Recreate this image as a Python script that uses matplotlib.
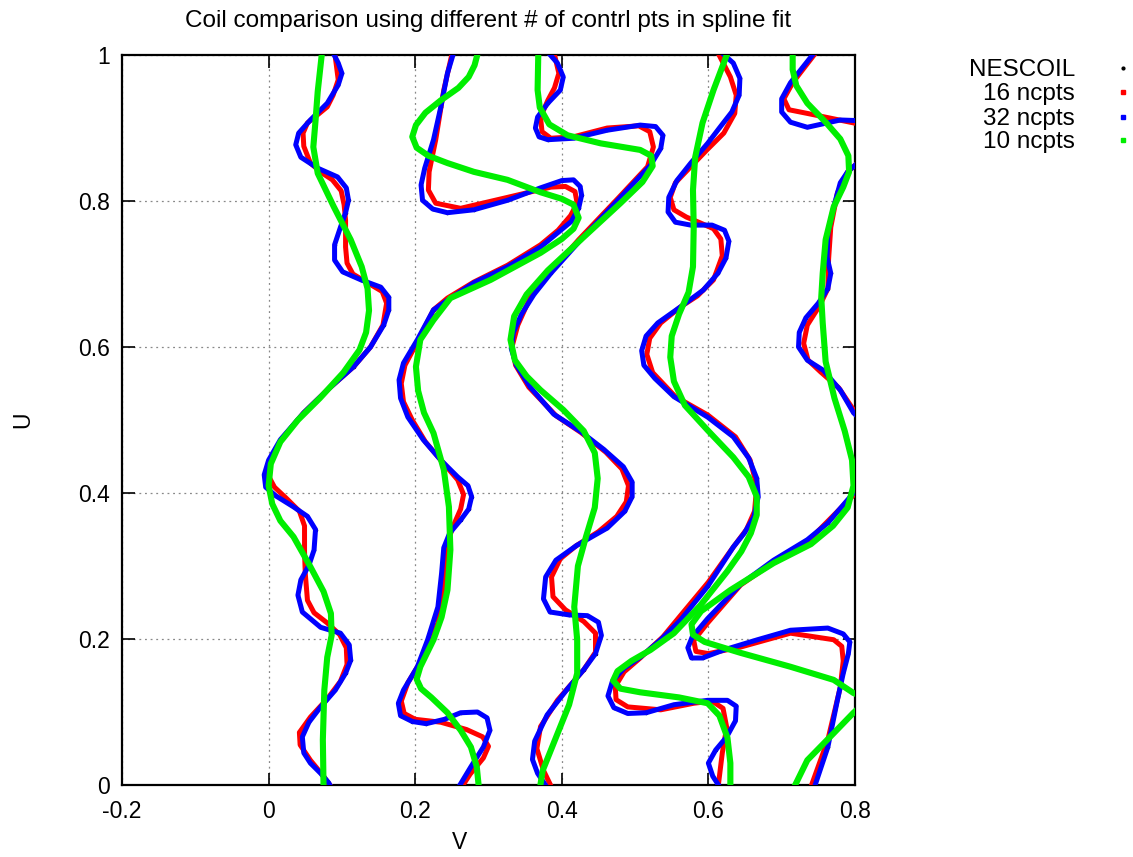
import numpy as np
import matplotlib.pyplot as plt
from matplotlib.lines import Line2D

plt.rcParams['font.family'] = ['Liberation Sans', 'DejaVu Sans']

# coil traces in (v, u), one list per coil and fit; coils that run past the
# right edge at v=0.8 are kept as separate pieces
a_32 = [(0.087, 1.005), (0.095, 0.989), (0.100, 0.975), (0.095, 0.959), (0.080, 0.934),
        (0.057, 0.911), (0.041, 0.893), (0.037, 0.877), (0.044, 0.860), (0.067, 0.845),
        (0.094, 0.833), (0.106, 0.818), (0.109, 0.801), (0.105, 0.784), (0.098, 0.764),
        (0.090, 0.740), (0.090, 0.719), (0.101, 0.703), (0.126, 0.692), (0.153, 0.682),
        (0.164, 0.668), (0.164, 0.651), (0.157, 0.630), (0.139, 0.600), (0.116, 0.573),
        (0.080, 0.541), (0.048, 0.510), (0.016, 0.473), (0.000, 0.445), (-0.006, 0.425),
        (-0.004, 0.408), (0.010, 0.396), (0.034, 0.381), (0.053, 0.368), (0.064, 0.350),
        (0.062, 0.322), (0.055, 0.301), (0.044, 0.281), (0.040, 0.260), (0.046, 0.237),
        (0.071, 0.216), (0.098, 0.208), (0.110, 0.192), (0.112, 0.171), (0.105, 0.153),
        (0.091, 0.130), (0.071, 0.107), (0.055, 0.086), (0.046, 0.066), (0.048, 0.044),
        (0.057, 0.030), (0.071, 0.016), (0.082, 0.003), (0.086, -0.005)]
a_16 = [(0.090, 1.005), (0.095, 0.966), (0.088, 0.945), (0.080, 0.929), (0.063, 0.915),
        (0.053, 0.907), (0.047, 0.893), (0.048, 0.875), (0.057, 0.852), (0.072, 0.839),
        (0.087, 0.829), (0.099, 0.814), (0.103, 0.795), (0.105, 0.774), (0.105, 0.737),
        (0.107, 0.715), (0.115, 0.700), (0.135, 0.688), (0.155, 0.676), (0.161, 0.660),
        (0.156, 0.630), (0.139, 0.600), (0.116, 0.573), (0.080, 0.541), (0.048, 0.510),
        (0.018, 0.474), (0.003, 0.445), (-0.001, 0.425), (0.008, 0.408), (0.025, 0.392),
        (0.042, 0.375), (0.049, 0.355), (0.049, 0.320), (0.050, 0.290), (0.053, 0.253),
        (0.062, 0.236), (0.080, 0.222), (0.097, 0.206), (0.106, 0.188), (0.107, 0.165),
        (0.098, 0.142), (0.080, 0.118), (0.057, 0.093), (0.042, 0.072), (0.043, 0.055),
        (0.057, 0.034), (0.075, 0.012), (0.087, -0.005)]
a_10 = [(0.073, 1.005), (0.067, 0.950), (0.064, 0.910), (0.061, 0.874), (0.067, 0.838),
        (0.089, 0.792), (0.112, 0.747), (0.127, 0.710), (0.135, 0.680), (0.137, 0.650),
        (0.133, 0.620), (0.124, 0.596), (0.102, 0.565), (0.070, 0.530), (0.040, 0.500),
        (0.016, 0.470), (0.003, 0.440), (0.000, 0.410), (0.005, 0.385), (0.016, 0.362),
        (0.034, 0.340), (0.057, 0.299), (0.075, 0.265), (0.085, 0.235), (0.086, 0.205),
        (0.080, 0.175), (0.076, 0.130), (0.074, 0.062), (0.075, -0.005)]

b_32 = [(0.253, 1.005), (0.244, 0.975), (0.235, 0.929), (0.225, 0.884), (0.213, 0.845),
        (0.208, 0.822), (0.210, 0.801), (0.224, 0.789), (0.244, 0.784), (0.280, 0.788),
        (0.326, 0.801), (0.371, 0.818), (0.400, 0.828), (0.416, 0.829), (0.425, 0.820),
        (0.427, 0.808), (0.423, 0.790), (0.413, 0.772), (0.395, 0.757), (0.371, 0.737),
        (0.326, 0.710), (0.280, 0.688), (0.244, 0.664), (0.225, 0.651), (0.203, 0.610),
        (0.184, 0.578), (0.178, 0.555), (0.180, 0.530), (0.190, 0.504), (0.211, 0.473),
        (0.235, 0.445), (0.258, 0.422), (0.272, 0.410), (0.277, 0.395), (0.273, 0.378),
        (0.262, 0.363), (0.247, 0.345), (0.239, 0.325), (0.236, 0.290), (0.231, 0.244),
        (0.217, 0.199), (0.203, 0.162), (0.184, 0.130), (0.177, 0.112), (0.180, 0.095),
        (0.196, 0.087), (0.215, 0.084), (0.240, 0.090), (0.262, 0.099), (0.285, 0.100),
        (0.298, 0.092), (0.302, 0.075), (0.293, 0.052), (0.276, 0.025), (0.258, -0.005)]
b_16 = [(0.251, 1.005), (0.239, 0.952), (0.228, 0.884), (0.219, 0.840), (0.218, 0.815),
        (0.228, 0.797), (0.262, 0.790), (0.326, 0.805), (0.385, 0.819), (0.405, 0.820),
        (0.418, 0.813), (0.421, 0.797), (0.412, 0.780), (0.395, 0.760), (0.371, 0.740),
        (0.326, 0.712), (0.280, 0.689), (0.244, 0.667), (0.225, 0.651), (0.203, 0.607),
        (0.186, 0.575), (0.181, 0.550), (0.184, 0.525), (0.196, 0.500), (0.214, 0.470),
        (0.241, 0.438), (0.258, 0.418), (0.266, 0.398), (0.262, 0.378), (0.252, 0.355),
        (0.245, 0.335), (0.241, 0.290), (0.231, 0.222), (0.211, 0.175), (0.190, 0.140),
        (0.181, 0.115), (0.185, 0.098), (0.200, 0.090), (0.235, 0.086), (0.270, 0.076),
        (0.292, 0.066), (0.300, 0.053), (0.293, 0.037), (0.275, 0.015), (0.262, -0.005)]
b_10 = [(0.286, 1.005), (0.281, 0.986), (0.273, 0.970), (0.259, 0.955), (0.235, 0.938),
        (0.214, 0.921), (0.201, 0.904), (0.196, 0.888), (0.202, 0.873), (0.218, 0.862),
        (0.244, 0.852), (0.280, 0.840), (0.326, 0.829), (0.371, 0.812), (0.400, 0.803),
        (0.416, 0.795), (0.423, 0.777), (0.416, 0.762), (0.400, 0.748), (0.371, 0.729),
        (0.303, 0.692), (0.248, 0.667), (0.225, 0.637), (0.207, 0.610), (0.201, 0.573),
        (0.204, 0.540), (0.212, 0.510), (0.225, 0.482), (0.239, 0.432), (0.246, 0.381),
        (0.248, 0.322), (0.244, 0.267), (0.236, 0.230), (0.225, 0.199), (0.207, 0.162),
        (0.202, 0.145), (0.208, 0.132), (0.222, 0.120), (0.244, 0.099), (0.262, 0.075),
        (0.276, 0.052), (0.284, 0.025), (0.287, -0.005)]

c_32 = [(0.380, 1.005), (0.394, 0.989), (0.402, 0.970), (0.398, 0.952), (0.381, 0.934),
        (0.367, 0.915), (0.364, 0.900), (0.369, 0.888), (0.381, 0.884), (0.416, 0.886),
        (0.462, 0.897), (0.507, 0.904), (0.528, 0.902), (0.538, 0.890), (0.535, 0.872),
        (0.521, 0.849), (0.480, 0.805), (0.426, 0.747), (0.385, 0.701), (0.362, 0.672),
        (0.345, 0.645), (0.334, 0.620), (0.331, 0.598), (0.338, 0.575), (0.357, 0.545),
        (0.389, 0.508), (0.426, 0.484), (0.457, 0.460), (0.484, 0.436), (0.496, 0.415),
        (0.496, 0.395), (0.486, 0.375), (0.462, 0.352), (0.420, 0.328), (0.392, 0.308),
        (0.378, 0.285), (0.375, 0.255), (0.384, 0.237), (0.410, 0.233), (0.435, 0.232),
        (0.450, 0.223), (0.454, 0.205), (0.446, 0.180), (0.430, 0.158), (0.408, 0.132),
        (0.380, 0.096), (0.363, 0.060), (0.360, 0.035), (0.367, 0.016), (0.381, -0.005)]
c_16 = [(0.389, 1.005), (0.396, 0.975), (0.390, 0.955), (0.381, 0.938), (0.371, 0.915),
        (0.373, 0.895), (0.385, 0.886), (0.416, 0.888), (0.462, 0.900), (0.505, 0.903),
        (0.520, 0.895), (0.525, 0.874), (0.517, 0.847), (0.477, 0.804), (0.423, 0.747),
        (0.383, 0.701), (0.357, 0.668), (0.340, 0.630), (0.332, 0.600), (0.337, 0.575),
        (0.355, 0.545), (0.392, 0.506), (0.426, 0.483), (0.460, 0.456), (0.482, 0.433),
        (0.491, 0.410), (0.488, 0.388), (0.475, 0.368), (0.450, 0.347), (0.420, 0.328),
        (0.398, 0.310), (0.386, 0.285), (0.388, 0.258), (0.405, 0.240), (0.430, 0.224),
        (0.446, 0.208), (0.446, 0.182), (0.430, 0.158), (0.394, 0.116), (0.371, 0.080),
        (0.366, 0.050), (0.375, 0.020), (0.387, -0.005)]
c_10 = [(0.368, 1.005), (0.367, 0.952), (0.370, 0.928), (0.383, 0.905), (0.408, 0.890),
        (0.453, 0.879), (0.507, 0.870), (0.522, 0.862), (0.524, 0.848), (0.510, 0.826),
        (0.480, 0.797), (0.426, 0.747), (0.381, 0.705), (0.352, 0.672), (0.335, 0.642),
        (0.330, 0.610), (0.336, 0.582), (0.352, 0.560), (0.371, 0.541), (0.402, 0.514),
        (0.430, 0.485), (0.445, 0.455), (0.449, 0.420), (0.445, 0.380), (0.433, 0.340),
        (0.422, 0.300), (0.417, 0.244), (0.421, 0.199), (0.421, 0.153), (0.410, 0.110),
        (0.390, 0.060), (0.374, 0.020), (0.370, -0.005)]

d_32 = [(0.616, 1.005), (0.634, 0.989), (0.643, 0.968), (0.642, 0.945), (0.632, 0.922),
        (0.615, 0.900), (0.599, 0.879), (0.576, 0.852), (0.557, 0.828), (0.546, 0.805),
        (0.545, 0.785), (0.555, 0.771), (0.576, 0.767), (0.605, 0.767), (0.622, 0.760),
        (0.628, 0.745), (0.624, 0.722), (0.613, 0.701), (0.593, 0.678), (0.562, 0.655),
        (0.531, 0.633), (0.515, 0.615), (0.509, 0.595), (0.512, 0.575), (0.527, 0.557),
        (0.553, 0.532), (0.599, 0.504), (0.634, 0.477), (0.655, 0.448), (0.666, 0.420),
        (0.668, 0.395), (0.662, 0.367), (0.649, 0.345), (0.634, 0.326), (0.599, 0.272),
        (0.562, 0.226), (0.535, 0.199), (0.507, 0.175), (0.485, 0.160), (0.469, 0.142),
        (0.463, 0.122), (0.471, 0.106), (0.490, 0.098), (0.515, 0.099), (0.553, 0.110),
        (0.599, 0.116), (0.626, 0.116), (0.638, 0.108), (0.637, 0.088), (0.625, 0.066),
        (0.610, 0.048), (0.600, 0.030), (0.606, 0.012), (0.617, -0.005)]
d_16 = [(0.612, 1.005), (0.630, 0.970), (0.638, 0.945), (0.636, 0.920), (0.621, 0.893),
        (0.598, 0.870), (0.576, 0.847), (0.555, 0.825), (0.548, 0.805), (0.553, 0.788),
        (0.570, 0.778), (0.589, 0.770), (0.607, 0.762), (0.617, 0.748), (0.619, 0.725),
        (0.607, 0.692), (0.585, 0.670), (0.562, 0.655), (0.535, 0.633), (0.520, 0.612),
        (0.516, 0.590), (0.524, 0.565), (0.555, 0.532), (0.599, 0.507), (0.637, 0.477),
        (0.657, 0.445), (0.666, 0.410), (0.663, 0.375), (0.652, 0.350), (0.634, 0.326),
        (0.600, 0.278), (0.566, 0.237), (0.538, 0.203), (0.507, 0.174), (0.485, 0.155),
        (0.473, 0.135), (0.474, 0.117), (0.490, 0.107), (0.535, 0.103), (0.580, 0.112),
        (0.605, 0.115), (0.620, 0.105), (0.625, 0.079), (0.619, 0.044), (0.613, -0.005)]
d_10 = [(0.627, 1.005), (0.607, 0.952), (0.592, 0.907), (0.582, 0.860), (0.579, 0.815),
        (0.580, 0.764), (0.579, 0.710), (0.573, 0.675), (0.560, 0.645), (0.550, 0.615),
        (0.548, 0.586), (0.553, 0.553), (0.568, 0.520), (0.599, 0.486), (0.634, 0.449),
        (0.655, 0.422), (0.666, 0.395), (0.666, 0.370), (0.658, 0.345), (0.645, 0.320),
        (0.626, 0.293), (0.589, 0.246), (0.553, 0.208), (0.521, 0.185), (0.495, 0.170),
        (0.476, 0.156), (0.470, 0.143), (0.480, 0.132), (0.507, 0.127), (0.560, 0.120),
        (0.599, 0.112), (0.615, 0.095), (0.626, 0.065), (0.630, 0.030), (0.630, -0.005)]

e_32 = [[(0.744, -0.005), (0.763, 0.052), (0.776, 0.116), (0.784, 0.153), (0.791, 0.180),
         (0.793, 0.196), (0.784, 0.207), (0.763, 0.215), (0.712, 0.212), (0.667, 0.199),
         (0.621, 0.185), (0.592, 0.174), (0.577, 0.174), (0.572, 0.188), (0.578, 0.203),
         (0.599, 0.228), (0.644, 0.275), (0.689, 0.308), (0.735, 0.336), (0.763, 0.359),
         (0.798, 0.400), (0.808, 0.411)],
        [(0.808, 0.500), (0.798, 0.510), (0.780, 0.541), (0.757, 0.568), (0.735, 0.582),
         (0.723, 0.600), (0.724, 0.620), (0.733, 0.640), (0.750, 0.660), (0.763, 0.680),
         (0.767, 0.701), (0.762, 0.723), (0.763, 0.756), (0.771, 0.792), (0.780, 0.825),
         (0.790, 0.840), (0.808, 0.856)],
        [(0.746, 1.005), (0.712, 0.962), (0.700, 0.940), (0.700, 0.922), (0.712, 0.908),
         (0.735, 0.901), (0.780, 0.911), (0.808, 0.910)]]
e_16 = [[(0.739, -0.005), (0.763, 0.062), (0.780, 0.134), (0.784, 0.170), (0.782, 0.190),
         (0.771, 0.199), (0.712, 0.208), (0.644, 0.189), (0.600, 0.180), (0.583, 0.183),
         (0.580, 0.198), (0.599, 0.222), (0.644, 0.274), (0.689, 0.305), (0.735, 0.333),
         (0.798, 0.397), (0.808, 0.407)],
        [(0.808, 0.503), (0.798, 0.514), (0.778, 0.544), (0.753, 0.566), (0.736, 0.582),
         (0.730, 0.605), (0.735, 0.630), (0.752, 0.657), (0.763, 0.680), (0.764, 0.720),
         (0.767, 0.764), (0.776, 0.811), (0.790, 0.840), (0.808, 0.856)],
        [(0.748, 1.005), (0.715, 0.962), (0.703, 0.940), (0.710, 0.925), (0.735, 0.920),
         (0.798, 0.907), (0.808, 0.905)]]
e_10 = [[(0.716, -0.005), (0.735, 0.034), (0.771, 0.071), (0.798, 0.099), (0.808, 0.108)],
        [(0.808, 0.122), (0.798, 0.126), (0.771, 0.144), (0.712, 0.162), (0.644, 0.181),
         (0.595, 0.196), (0.579, 0.206), (0.577, 0.220), (0.590, 0.238), (0.630, 0.267),
         (0.689, 0.304), (0.740, 0.330), (0.770, 0.355), (0.790, 0.380), (0.798, 0.410),
         (0.796, 0.445), (0.786, 0.485), (0.772, 0.530), (0.760, 0.580), (0.756, 0.633),
         (0.754, 0.668), (0.756, 0.701), (0.760, 0.747), (0.771, 0.792), (0.784, 0.819),
         (0.792, 0.840), (0.791, 0.862), (0.780, 0.885), (0.760, 0.908), (0.735, 0.934),
         (0.720, 0.958), (0.715, 0.980), (0.715, 1.005)]]

pts16 = [a_16, b_16, c_16, d_16] + e_16
pts32 = [a_32, b_32, c_32, d_32] + e_32
pts10 = [a_10, b_10, c_10, d_10] + e_10

labels = ['NESCOIL', '16 ncpts', '32 ncpts', '10 ncpts']
colors = ['black', '#ff0000', '#0000ff', '#00ee00']

fig = plt.figure(figsize=(11.33, 8.57), dpi=100)
ax = fig.add_axes([0.1077, 0.0840, 0.6469, 0.8518])


def draw(segs, color, lw, z):
    for seg in segs:
        arr = np.array(seg)
        ax.plot(arr[:, 0], arr[:, 1], color=color, lw=lw, zorder=z,
                solid_capstyle='round', solid_joinstyle='round')


# NESCOIL points sit under the 32-point fit
for seg in pts32:
    arr = np.array(seg)
    ax.plot(arr[:, 0], arr[:, 1], '.', color='black', ms=3, zorder=2)
draw(pts16, colors[1], 3.6, 3)
draw(pts32, colors[2], 3.6, 4)
draw(pts10, colors[3], 4.4, 5)

ax.set_xlim(-0.2, 0.8)
ax.set_ylim(0, 1)
ax.set_xticks([-0.2, 0, 0.2, 0.4, 0.6, 0.8])
ax.set_xticklabels(['-0.2', '0', '0.2', '0.4', '0.6', '0.8'])
ax.set_yticks([0, 0.2, 0.4, 0.6, 0.8, 1])
ax.set_yticklabels(['0', '0.2', '0.4', '0.6', '0.8', '1'])
ax.tick_params(direction='in', length=9, width=1.2, top=True, right=True,
               labelsize=16.5)
ax.tick_params(axis='x', pad=11)
ax.tick_params(axis='y', pad=9)
ax.grid(True, color='#888888', ls=(0, (1.5, 3)), lw=0.9)
for s in ax.spines.values():
    s.set_linewidth(1.6)
ax.set_xlabel('V', fontsize=16.5)
ax.xaxis.set_label_coords(0.461, -0.063)
ax.set_ylabel('U', fontsize=16.5, labelpad=31)
ax.set_title('Coil comparison using different # of contrl pts in spline fit',
             fontsize=17.5, pad=20)

# key: labels right-aligned, sample marks to their right
key_y = [68, 92, 117, 140]
for lab, col, yp in zip(labels, colors, key_y):
    fig.text(1075 / 1133, 1 - (yp + 8) / 857, lab, ha='right', va='baseline',
             fontsize=17.5)
    mk = '.' if col == 'black' else 's'
    fig.add_artist(Line2D([1123 / 1133], [1 - yp / 857], ls='none', marker=mk,
                          ms=4 if mk == '.' else 2.8, color=col,
                          transform=fig.transFigure))

fig.savefig('out.png', dpi=100)
